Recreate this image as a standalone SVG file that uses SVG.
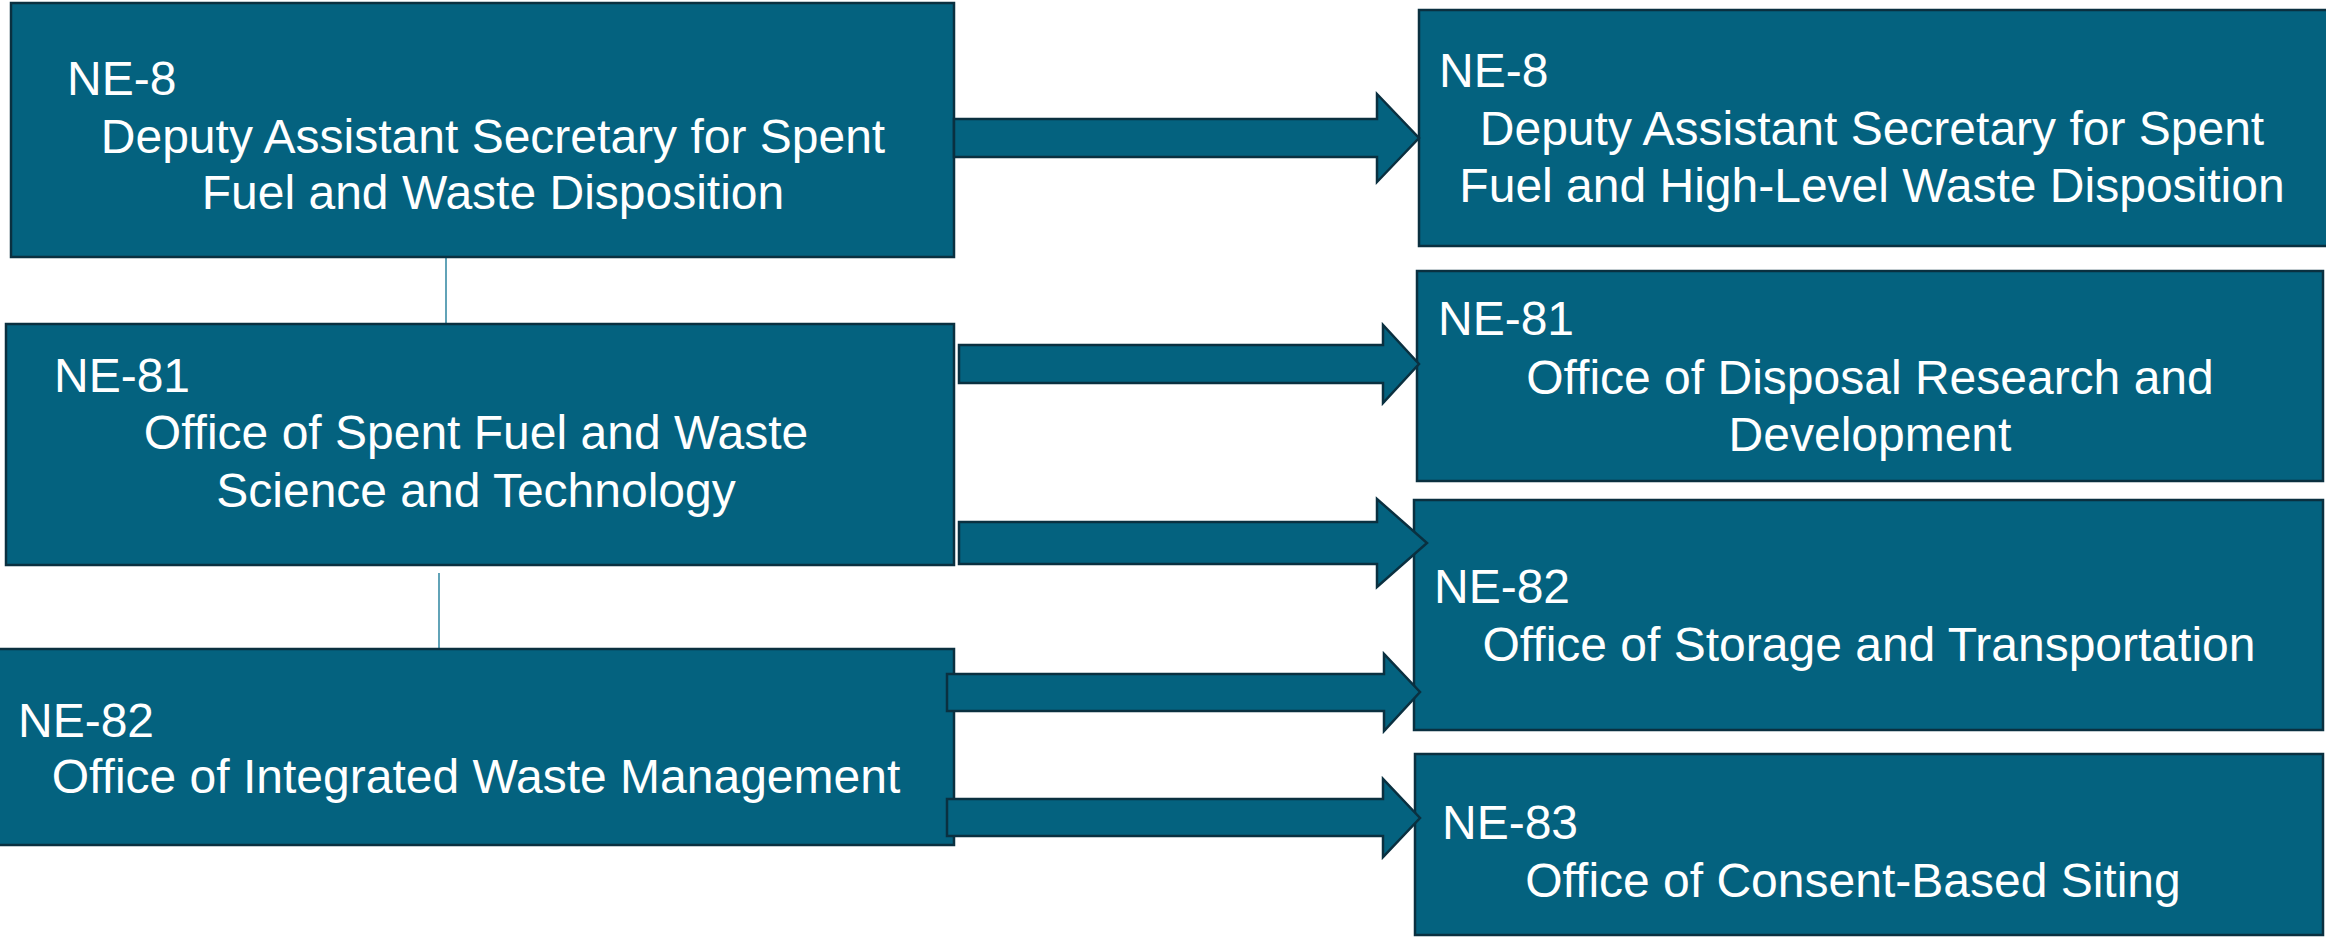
<svg xmlns="http://www.w3.org/2000/svg" width="2326" height="937" viewBox="0 0 2326 937">
  <style>
    .box { fill: #04627F; stroke: #0A3040; stroke-width: 2.5; }
    .arrow { fill: #04627F; stroke: #0A3040; stroke-width: 2.5; stroke-linejoin: miter; }
    .line { stroke: #3A8CA6; stroke-width: 1.6; fill: none; }
    text { font-family: "Liberation Sans", Arial, sans-serif; font-size: 48px; fill: #FFFFFF; }
    .c { text-anchor: middle; }
  </style>
  <rect width="2326" height="937" fill="#FFFFFF"/>

  <g id="connectors-lines">
    <line class="line" x1="446" y1="257" x2="446" y2="324"/>
    <line class="line" x1="439" y1="573" x2="439" y2="648"/>
  </g>

  <g id="node-left-ne8">
    <rect class="box" x="11" y="3" width="943" height="254"/>
    <text x="67" y="95">NE-8</text>
    <text class="c" x="493" y="153">Deputy Assistant Secretary for Spent</text>
    <text class="c" x="493" y="209">Fuel and Waste Disposition</text>
  </g>

  <g id="node-left-ne81">
    <rect class="box" x="6" y="324" width="948" height="241"/>
    <text x="54" y="392">NE-81</text>
    <text class="c" x="476" y="449">Office of Spent Fuel and Waste</text>
    <text class="c" x="476" y="507">Science and Technology</text>
  </g>

  <g id="node-left-ne82">
    <rect class="box" x="-3" y="649" width="957" height="196"/>
    <text x="18" y="737">NE-82</text>
    <text class="c" x="476" y="793">Office of Integrated Waste Management</text>
  </g>

  <g id="node-right-ne8">
    <rect class="box" x="1419" y="10" width="1904" height="236"/>
    <text x="1439" y="87">NE-8</text>
    <text class="c" x="1872" y="145">Deputy Assistant Secretary for Spent</text>
    <text class="c" x="1872" y="202">Fuel and High-Level Waste Disposition</text>
  </g>

  <g id="node-right-ne81">
    <rect class="box" x="1417" y="271" width="906" height="210"/>
    <text x="1438" y="335">NE-81</text>
    <text class="c" x="1870" y="394">Office of Disposal Research and</text>
    <text class="c" x="1870" y="451">Development</text>
  </g>

  <g id="node-right-ne82">
    <rect class="box" x="1414" y="500" width="909" height="230"/>
    <text x="1434" y="603">NE-82</text>
    <text class="c" x="1869" y="661">Office of Storage and Transportation</text>
  </g>

  <g id="node-right-ne83">
    <rect class="box" x="1415" y="754" width="908" height="181"/>
    <text x="1442" y="839">NE-83</text>
    <text class="c" x="1853" y="897">Office of Consent-Based Siting</text>
  </g>

  <g id="connectors">
    <polygon class="arrow" points="954,119 1377,119 1377,94 1419,138 1377,182 1377,157 954,157"/>
    <polygon class="arrow" points="959,345 1383,345 1383,325 1419,364 1383,403 1383,383 959,383"/>
    <polygon class="arrow" points="959,522 1377,522 1377,499 1427,543 1377,587 1377,564 959,564"/>
    <polygon class="arrow" points="947,674 1384,674 1384,654 1420,692 1384,731 1384,711 947,711"/>
    <polygon class="arrow" points="947,799 1383,799 1383,779 1420,818 1383,857 1383,836 947,836"/>
  </g>
</svg>
